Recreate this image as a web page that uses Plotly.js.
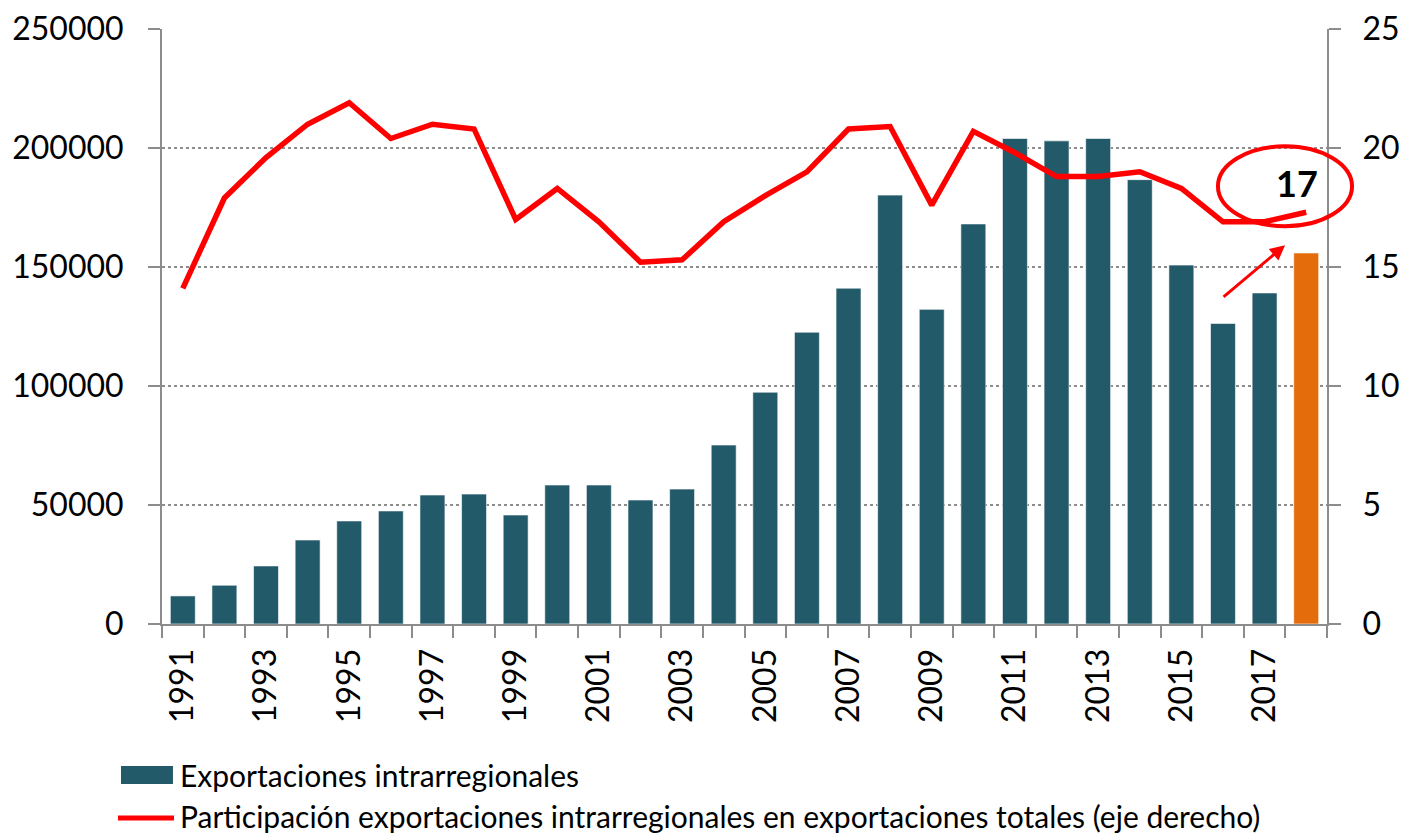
<!DOCTYPE html>
<html>
<head>
<meta charset="utf-8">
<script src="https://cdn.plot.ly/plotly-3.0.1.min.js"></script>
<style>html,body{margin:0;padding:0;background:#fff;}#chart{width:1403px;height:834px;}</style>
</head>
<body>
<div id="chart"></div>
<script>
const years = [1991,1992,1993,1994,1995,1996,1997,1998,1999,2000,2001,2002,2003,2004,2005,2006,2007,2008,2009,2010,2011,2012,2013,2014,2015,2016,2017,2018];
const exportaciones = [11800,16300,24400,35300,43300,47500,54200,54600,45800,58400,58400,52100,56700,75200,97400,122600,141100,180200,132200,168100,204000,203000,204000,186700,150800,126300,139100,155900];
const participacion = [14.1,17.9,19.6,21.0,21.9,20.4,21.0,20.8,17.0,18.3,16.9,15.2,15.3,16.9,18.0,19.0,20.8,20.9,17.6,20.7,19.8,18.8,18.8,19.0,18.3,16.9,16.9,17.3];
const tickYears = [1991,1993,1995,1997,1999,2001,2003,2005,2007,2009,2011,2013,2015,2017];
const tickLabels = ["1991","1993","1995","1997","1999","2001","2003","2005","2007","2009","2011","2013","2015","2017"];
const barName = "Exportaciones intrarregionales";
const lineName = "Participación exportaciones intrarregionales en exportaciones totales (eje derecho)";
const highlightLabel = "17";

const TEAL = "#235A69", ORANGE = "#E46C0A", RED = "#FF0000", AXIS = "#8C8C8C";
const FONT = "Lato, 'Open Sans', sans-serif";
const barColors = years.map(y => y === 2018 ? ORANGE : TEAL);

const traces = [
  {type:"bar", x:years, y:exportaciones, name:barName, marker:{color:barColors, line:{color:"rgba(255,255,255,0.6)", width:1}}, width:0.6, showlegend:false, hoverinfo:"x+y"},
  {type:"scatter", mode:"lines", x:years, y:participacion, yaxis:"y2", name:lineName, line:{color:RED, width:5.5}, showlegend:false}
];

const layout = {
  width:1403, height:834,
  margin:{l:162, r:76, t:29, b:210},
  paper_bgcolor:"#fff", plot_bgcolor:"#fff",
  font:{family:FONT, size:32, color:"#000"},
  showlegend:false,
  xaxis:{range:[1990.5,2018.5], tickmode:"array", tickvals:tickYears, ticktext:tickLabels, tickangle:-90, ticks:"", showline:true, linecolor:AXIS, linewidth:2, showgrid:false, zeroline:false, tickfont:{size:32}, ticklabelstandoff:10,
    minor:{tickmode:"linear", tick0:1990.5, dtick:1, ticks:"outside", ticklen:12, tickwidth:2, tickcolor:AXIS, showgrid:false}},
  yaxis:{range:[0,250000], tickmode:"linear", tick0:0, dtick:50000, tickformat:"d", ticks:"outside", ticklen:12, tickwidth:2, tickcolor:AXIS, showline:true, linecolor:AXIS, linewidth:2, showgrid:true, gridcolor:"#8C8C8C", griddash:"dot", gridwidth:1.5, zeroline:false, tickfont:{size:32}, ticklabelstandoff:18},
  yaxis2:{range:[0,25], tickmode:"linear", tick0:0, dtick:5, overlaying:"y", side:"right", ticks:"outside", ticklen:12, tickwidth:2, tickcolor:AXIS, showline:true, linecolor:AXIS, linewidth:2, showgrid:false, zeroline:false, tickfont:{size:32}, ticklabelstandoff:15},
  shapes:[
    {type:"circle", xref:"paper", yref:"paper", x0:0.9064, x1:1.0215, y0:0.6686, y1:0.803, line:{color:RED, width:4}},
    {type:"rect", xref:"paper", yref:"paper", x0:-0.0352, x1:0.0094, y0:-0.2385, y1:-0.2688, fillcolor:TEAL, line:{width:0}},
    {type:"line", xref:"paper", yref:"paper", x0:-0.0378, x1:0.0103, y0:-0.3259, y1:-0.3259, line:{color:RED, width:5}}
  ],
  annotations:[
    {xref:"paper", yref:"paper", x:0.964, y:0.6367, ax:-63, ay:53, text:"", showarrow:true, arrowhead:2, arrowsize:1, arrowwidth:3, arrowcolor:RED},
    {xref:"paper", yref:"paper", x:0.9742, y:0.7408, xanchor:"center", yanchor:"middle", text:"<b>"+highlightLabel+"</b>", showarrow:false, font:{size:36, color:"#000", family:FONT}},
    {xref:"paper", yref:"paper", x:0.0137, y:-0.2535, xanchor:"left", yanchor:"middle", text:barName, showarrow:false, font:{size:30, color:"#000", family:FONT}},
    {xref:"paper", yref:"paper", x:0.0137, y:-0.3232, xanchor:"left", yanchor:"middle", text:lineName, showarrow:false, font:{size:30, color:"#000", family:FONT}}
  ]
};

Plotly.newPlot("chart", traces, layout, {displayModeBar:false, staticPlot:true});
</script>
</body>
</html>
